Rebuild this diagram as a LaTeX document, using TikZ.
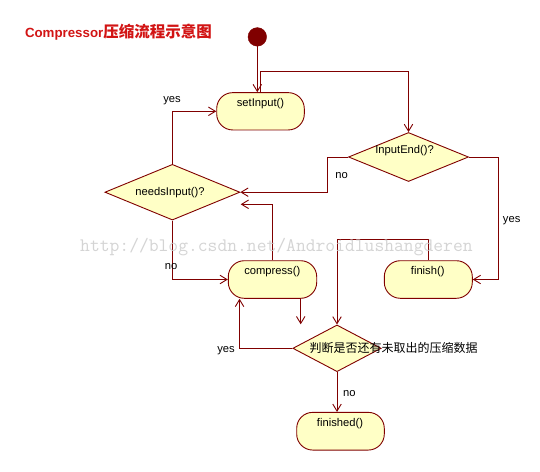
\documentclass[tikz,border=0pt]{standalone}
\usepackage{fontspec}
\setmainfont{Liberation Sans}
\newfontfamily\cjk{Noto Sans CJK SC}
\usetikzlibrary{arrows.meta,shapes.geometric}
\definecolor{maroon}{RGB}{128,0,0}
\definecolor{boxfill}{RGB}{255,255,198}
\definecolor{titlered}{RGB}{210,20,20}
\definecolor{wmgray}{RGB}{205,205,205}
\tikzset{
  lbl/.style={font=\fontsize{11.2}{12}\selectfont, inner sep=0pt, text height=8pt, text depth=2.5pt},
  actbox/.style={draw=maroon, fill=boxfill, line width=0.9pt, rounded corners=16pt, inner sep=0pt},
  decbox/.style={draw=maroon, fill=boxfill, line width=0.9pt, diamond, inner sep=0pt},
  arr/.style={draw=maroon, line width=0.9pt, -{Straight Barb[length=7pt,width=8.5pt]}},
}
\begin{document}
\begin{tikzpicture}[x=1pt,y=-1pt]
\useasboundingbox[fill=white] (0,0) rectangle (540,471);

% title
\node[anchor=base west, inner sep=0pt, text=titlered, font=\bfseries] (title) at (24.8,37.5)
  {\fontsize{13.3}{15}\selectfont Compressor\fontsize{15.5}{17}\selectfont\cjk 压缩流程示意图};

% nodes
\node[circle, fill=maroon, draw=maroon, minimum size=18.6pt, inner sep=0pt] (start) at (257.3,36.9) {};
\node[actbox, minimum width=87.6pt, minimum height=37.3pt] (setinput) at (260.5,111.3) {};
\node[lbl] (setinputT) at (260.5,103.5) {setInput()};

\node[decbox, minimum width=120pt, minimum height=49pt] (inputend) at (408.5,157) {};
\node[lbl] (inputendT) at (404.6,151) {InputEnd()?};

\node[decbox, minimum width=135pt, minimum height=55.7pt] (needsinput) at (172.4,192.2) {};
\node[lbl] (needsinputT) at (170,192.3) {needsInput()?};

\node[actbox, minimum width=88.4pt, minimum height=37.6pt] (compress) at (272.5,279.5) {};
\node[lbl] (compressT) at (272.3,271.7) {compress()};

\node[actbox, minimum width=88pt, minimum height=37.6pt] (finish) at (428.3,279.5) {};
\node[lbl] (finishT) at (427.7,271.7) {finish()};

\node[decbox, minimum width=88.4pt, minimum height=46.7pt] (decision) at (337,348.3) {};
\node[anchor=base west, inner sep=0pt, font=\fontsize{12}{14}\selectfont\cjk] (decisionT) at (309.3,352) {判断是否还有未取出的压缩数据};

\node[actbox, minimum width=87.6pt, minimum height=37.7pt] (finished) at (340.5,431.2) {};
\node[lbl] (finishedT) at (340,423.3) {finished()};

% free ends
\coordinate (n2) at (240.7,204.3);
\coordinate (c2) at (300.7,324.3);

% connectors
\draw[arr] (start.south) -- (start.south |- setinput.north);
\draw[arr] (setinput.north) -- ++(0,-20.4) -| (inputend.north);
\draw[arr] (inputend.west) -- ++(-21,0) |- (needsinput.east);
\draw[arr] (inputend.east) -- ++(29.5,0) |- (finish.east);
\draw[arr] (needsinput.north) |- (setinput.west);
\draw[arr] (needsinput.south) |- (compress.west);
\draw[arr] (compress.north) |- (n2);
\draw[arr] (c2 |- compress.south) -- (c2);
\draw[arr] (finish.north) -- ++(0,-20.7) -| (decision.north);
\draw[arr] (decision.west) -| ([xshift=11.7pt]compress.south west);
\draw[arr] (decision.south) -- (decision.south |- finished.north);

% edge labels
\node[lbl] (y1) at (172,99.5) {yes};
\node[lbl] (n1) at (341.7,175.7) {no};
\node[lbl] (y2) at (511.7,219.3) {yes};
\node[lbl] (n3) at (171,266.7) {no};
\node[lbl] (y3) at (226,349.3) {yes};
\node[lbl] (n4) at (349.3,393.3) {no};

% watermark
\node[anchor=base west, inner sep=0pt, text=wmgray, opacity=0.85, font=\fontsize{19.05}{20}\selectfont\ttfamily] (wm) at (80,251) {http://blog.csdn.net/Androidlushangderen};
\end{tikzpicture}
\end{document}
